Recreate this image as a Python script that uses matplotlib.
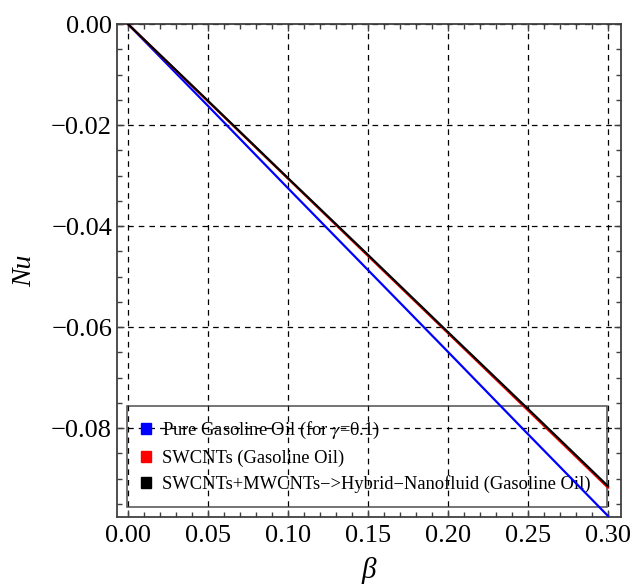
import numpy as np
import matplotlib
matplotlib.use("Agg")
import matplotlib.pyplot as plt
from matplotlib.patches import Patch
from matplotlib.ticker import MultipleLocator

plt.rcParams['font.family'] = ['Liberation Serif', 'DejaVu Serif']
plt.rcParams['mathtext.fontset'] = 'stix'

# Nusselt number against beta for the three fluids
beta = [0.00, 0.05, 0.10, 0.15, 0.20, 0.25, 0.30]
nu_pure = [0.0, -0.0162, -0.0325, -0.0487, -0.0649, -0.0812, -0.0974]
nu_swcnt = [0.0, -0.0153, -0.0306, -0.0459, -0.0612, -0.0765, -0.0918]
nu_hybrid = [0.0, -0.0152, -0.0305, -0.0457, -0.0610, -0.0762, -0.0915]

labels = ["Pure Gasoline Oil (for $\\gamma$=0.1)",
          "SWCNTs (Gasoline Oil)",
          "SWCNTs+MWCNTs\u2212>Hybrid\u2212Nanofluid (Gasoline Oil)"]
colors = ["#0000ff", "#ff0000", "#000000"]

fig = plt.figure(figsize=(6.32, 5.88), dpi=100)
ax = fig.add_axes([0.185, 0.1207, 0.7976, 0.8384])

ax.plot(beta, nu_pure, color=colors[0], lw=1.6, zorder=3)
ax.plot(beta, nu_swcnt, color=colors[1], lw=1.6, zorder=3)
ax.plot(beta, nu_hybrid, color=colors[2], lw=1.6, zorder=4)

ax.set_xlim(-0.0069, 0.3081)
ax.set_ylim(-0.0976, 0.0)

ax.xaxis.set_major_locator(MultipleLocator(0.05))
ax.xaxis.set_minor_locator(MultipleLocator(0.01))
ax.yaxis.set_major_locator(MultipleLocator(0.02))
ax.yaxis.set_minor_locator(MultipleLocator(0.005))
ax.xaxis.set_major_formatter(matplotlib.ticker.FormatStrFormatter('%.2f'))
ax.yaxis.set_major_formatter(matplotlib.ticker.FuncFormatter(
    lambda v, p: ("\u2212%.2f" % abs(v)) if v < -1e-9 else "0.00"))

ax.grid(True, which='major', color='black', linestyle=(0, (4.5, 4)), lw=0.9)
ax.set_axisbelow(True)

for s in ax.spines.values():
    s.set_color('0.25')
    s.set_linewidth(1.3)

ax.tick_params(which='both', direction='in', top=True, right=True,
               color='0.25', labelsize=19)
ax.tick_params(which='major', length=5, width=1)
ax.tick_params(which='minor', length=3.5, width=1)
ax.tick_params(axis='y', pad=3.5)
ax.tick_params(axis='x', pad=6)

ax.set_xlabel("\u03b2", fontsize=21, fontstyle='italic', labelpad=7)
ax.set_ylabel("Nu", fontsize=20, fontstyle='italic', labelpad=10)

handles = [Patch(facecolor=c, edgecolor=c) for c in colors]
leg = ax.legend(handles, labels, loc='lower left',
                bbox_to_anchor=(0.02, 0.02, 0.952, 0.207), mode='expand',
                fontsize=13.3, frameon=True, fancybox=False,
                handlelength=0.55, handleheight=0.55, handletextpad=0.6,
                borderpad=0.75, labelspacing=0.47, borderaxespad=0)
leg.get_frame().set_edgecolor('0.2')
leg.get_frame().set_linewidth(1.2)
leg.get_frame().set_facecolor('none')
leg.set_zorder(2)

fig.savefig("out.png", dpi=100)
